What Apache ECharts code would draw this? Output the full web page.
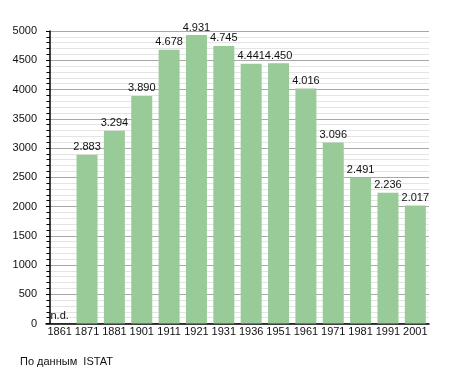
<!DOCTYPE html>
<html>
<head>
<meta charset="utf-8">
<script src="https://cdn.jsdelivr.net/npm/echarts@6/dist/echarts.min.js"></script>
<style>html,body{margin:0;padding:0;background:#fff}#c{width:455px;height:373px}</style>
</head>
<body>
<div id="c"></div>
<script>
const categories = ['1861','1871','1881','1901','1911','1921','1931','1936','1951','1961','1971','1981','1991','2001'];
const population = [null, 2883, 3294, 3890, 4678, 4931, 4745, 4441, 4450, 4016, 3096, 2491, 2236, 2017];
const yTicks = [0, 500, 1000, 1500, 2000, 2500, 3000, 3500, 4000, 4500, 5000];
const footer = 'По данным  ISTAT';

function fmt(v){ return String(v).replace(/\B(?=(\d{3})+(?!\d))/g, '.'); }

const FONT = 'Liberation Sans';
const chart = echarts.init(document.getElementById('c'), null, {renderer:'canvas'});
const data = population.map(v => v === null ? {value: 0, label: {formatter: 'n.d.'}} : v);

chart.setOption({
  animation: false,
  backgroundColor: '#fff',
  grid: {left: 46, top: 31, width: 383, height: 292.5, containLabel: false},
  xAxis: {
    type: 'category',
    data: categories,
    axisLine: {lineStyle: {color: '#000', width: 1.5}},
    axisTick: {show: false},
    axisLabel: {color: '#111', fontFamily: FONT, fontSize: 11, margin: 3, interval: 0}
  },
  yAxis: {
    type: 'value',
    min: yTicks[0],
    max: yTicks[yTicks.length - 1],
    interval: 500,
    offset: -4,
    axisLine: {show: true, lineStyle: {color: '#000', width: 1.5}},
    axisTick: {show: true, length: 4, lineStyle: {color: '#000'}},
    minorTick: {show: true, splitNumber: 5, length: 3.5, lineStyle: {color: '#000'}},
    splitLine: {show: true, lineStyle: {color: '#a8a8a8', width: 1}},
    minorSplitLine: {show: true, lineStyle: {color: '#e4e4e4', width: 1}},
    axisLabel: {color: '#111', fontFamily: FONT, fontSize: 11, margin: 13, formatter: v => String(v)}
  },
  series: [{
    type: 'bar',
    data: data,
    barWidth: 21,
    itemStyle: {color: '#99cb99'},
    label: {
      show: true,
      position: 'top',
      distance: 2,
      color: '#111',
      fontFamily: FONT,
      fontSize: 11,
      formatter: p => fmt(p.value)
    }
  }],
  graphic: [{
    type: 'text',
    left: 20,
    top: 356,
    style: {text: footer, fill: '#111', font: '11px "Liberation Sans"'}
  }]
});
</script>
</body>
</html>
